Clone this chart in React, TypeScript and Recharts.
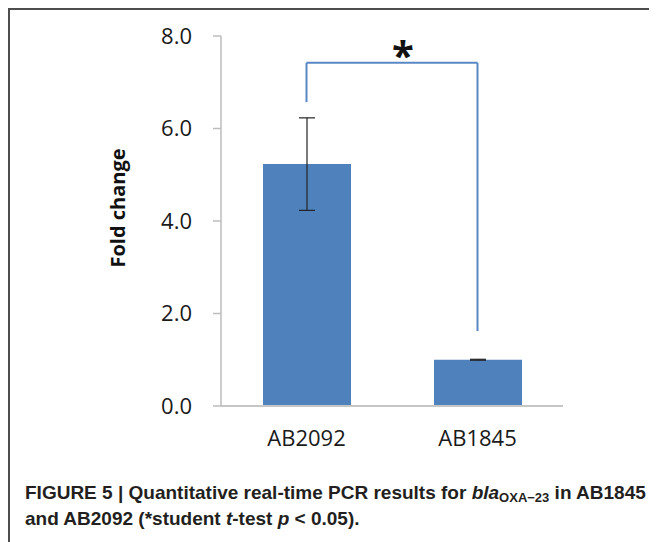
import { BarChart, Bar, XAxis, YAxis, ErrorBar, ReferenceLine } from 'recharts';

const strains = ['AB2092', 'AB1845'];
const foldChange = [5.23, 1.0];
const foldError = [1.0, 0.01];
const yTicks = [0, 2, 4, 6, 8];

// significance bracket (fold change units)
const bracketTop = 7.42;
const bracketEnds = [6.57, 1.62];

const data = strains.map((name, i) => ({ name, value: foldChange[i], err: foldError[i] }));

const tickFont = { fontFamily: '"Open Sans", sans-serif', fontSize: 22, fill: '#1a1a1a' };
const bracketColor = '#5A87C5';

const StarLabel = ({ viewBox }: any) => {
    const cx = viewBox.x + viewBox.width / 2 + 11;
    return (
        <text x={cx} y={viewBox.y + 7} textAnchor="middle"
            style={{ fontFamily: '"Open Sans", sans-serif', fontWeight: 700, fontSize: 40, fill: '#111' }}>
            *
        </text>
    );
};

const YTitle = () => (
    <text x={117} y={208} transform="rotate(-90, 117, 208)" textAnchor="middle" dominantBaseline="central"
        style={{ fontFamily: '"Open Sans", sans-serif', fontWeight: 700, fontSize: 20, fill: '#111' }}>
        Fold change
    </text>
);

export default function App() {
    return (
        <div style={{
            position: 'relative',
            width: 649,
            height: 534,
            borderTop: '2px solid #4d4d4d',
            borderLeft: '2px solid #4d4d4d',
            boxSizing: 'border-box',
        }}>
            <div style={{ position: 'absolute', left: -10, top: -10 }}>
                <BarChart width={657} height={460} data={data}
                    margin={{ top: 36, right: 94, bottom: 24, left: 0 }}>
                    <XAxis
                        dataKey="name"
                        height={30}
                        tickSize={0}
                        tickMargin={24}
                        axisLine={{ stroke: '#c6c6c6', strokeWidth: 2 }}
                        tick={tickFont}
                    />
                    <YAxis
                        width={221}
                        domain={[0, 8]}
                        ticks={yTicks}
                        interval={0}
                        tickSize={8}
                        tickMargin={21}
                        tickFormatter={(v: number) => v.toFixed(1)}
                        axisLine={{ stroke: '#bdbdbd', strokeWidth: 1.5 }}
                        tickLine={{ stroke: '#bdbdbd', strokeWidth: 1.5 }}
                        tick={tickFont}
                    />
                    <Bar dataKey="value" fill="#4F81BD" barSize={88} isAnimationActive={false}>
                        <ErrorBar dataKey="err" width={8} stroke="#222" strokeWidth={1.2} direction="y" />
                    </Bar>
                    <ReferenceLine ifOverflow="visible" stroke={bracketColor} strokeWidth={2}
                        segment={[{ x: strains[0], y: bracketEnds[0] }, { x: strains[0], y: bracketTop }]} />
                    <ReferenceLine ifOverflow="visible" stroke={bracketColor} strokeWidth={2}
                        segment={[{ x: strains[0], y: bracketTop }, { x: strains[1], y: bracketTop }]}
                        label={<StarLabel />} />
                    <ReferenceLine ifOverflow="visible" stroke={bracketColor} strokeWidth={2}
                        segment={[{ x: strains[1], y: bracketTop }, { x: strains[1], y: bracketEnds[1] }]} />
                    <YTitle />
                </BarChart>
            </div>
            <div style={{
                position: 'absolute',
                left: 15,
                top: 470,
                whiteSpace: 'nowrap',
                fontFamily: '"Liberation Sans Narrow", "Liberation Sans", Arial, sans-serif',
                fontWeight: 700,
                fontSize: 19,
                lineHeight: '26px',
                color: '#231f20',
            }}>
                FIGURE 5 | Quantitative real-time PCR results for <i>bla</i>
                <sub style={{ fontSize: 13, lineHeight: 0, verticalAlign: '-3px' }}>OXA−23</sub> in AB1845
                <br />
                and AB2092 (*student <i>t</i>-test <i>p</i> &lt; 0.05).
            </div>
        </div>
    );
}
